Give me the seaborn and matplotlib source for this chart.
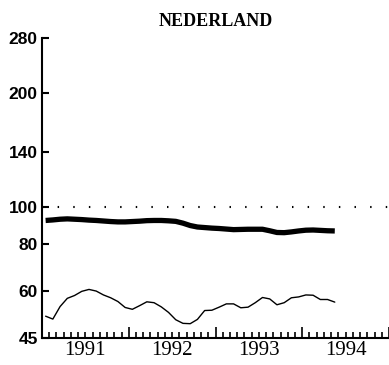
import matplotlib
matplotlib.use("Agg")
import numpy as np
import pandas as pd
import seaborn as sns
import matplotlib.pyplot as plt

# ---- data (monthly, Jan 1991 - May 1994) ----
months = pd.period_range("1991-01", periods=41, freq="M")
thick_values = [92.1, 92.4, 92.8, 93.0, 92.8, 92.6, 92.3, 92.1, 91.8, 91.5, 91.3, 91.3,
                91.5, 91.7, 92.0, 92.1, 92.1, 91.9, 91.6, 90.6, 89.3, 88.5, 88.2, 87.9,
                87.7, 87.4, 87.1, 87.2, 87.3, 87.3, 87.3, 86.5, 85.6, 85.5, 85.9, 86.4,
                86.8, 86.9, 86.7, 86.5, 86.4]
thin_values = [51.4, 50.5, 54.5, 57.3, 58.3, 59.8, 60.5, 59.9, 58.5, 57.5, 56.2, 54.2,
               53.6, 54.8, 56.1, 55.8, 54.4, 52.6, 50.3, 49.2, 49.1, 50.4, 53.2, 53.3,
               54.3, 55.4, 55.4, 54.1, 54.3, 55.8, 57.6, 57.1, 55.1, 55.8, 57.5, 57.8,
               58.5, 58.4, 56.9, 56.9, 56.0]
reference_level = 100
y_ticks = [45, 60, 80, 100, 140, 200, 280]
years = [1991, 1992, 1993, 1994]
title = "NEDERLAND"

df = pd.DataFrame({
    "t": [p.year + (p.month - 0.5) / 12 for p in months],
    "thick": thick_values,
    "thin": thin_values,
})

sns.set_style("ticks")
plt.rcParams["font.family"] = ["Liberation Sans", "DejaVu Sans"]
for key in ["text.color", "axes.labelcolor", "xtick.color", "ytick.color",
            "xtick.labelcolor", "ytick.labelcolor", "axes.edgecolor"]:
    plt.rcParams[key] = "black"

fig = plt.figure(figsize=(3.89, 3.65), dpi=100)
ax = fig.add_axes([42 / 389, 1 - 338 / 365, 347 / 389, 300 / 365])

ax.axhline(reference_level, color="black", lw=1.5, linestyle=(0, (0.7, 6.8)))
sns.lineplot(data=df, x="t", y="thick", ax=ax, color="black", lw=3.8,
             solid_capstyle="butt")
sns.lineplot(data=df, x="t", y="thin", ax=ax, color="black", lw=1.0)

ax.set_yscale("log")
ax.set_ylim(y_ticks[0], y_ticks[-1])
ax.set_yticks(y_ticks)
ax.set_yticklabels([str(v) for v in y_ticks], fontsize=12.5, fontweight="bold",
                   family=["Liberation Sans"])
ax.yaxis.set_minor_locator(matplotlib.ticker.NullLocator())

x0, x1 = years[0], years[-1] + 1
ax.set_xlim(x0, x1)
n_months = (x1 - x0) * 12
tick_pos = [x0 + k / 12 for k in range(n_months + 1)]
tick_lab = [str(x0 + k // 12) if k % 12 == 6 else "" for k in range(n_months + 1)]
ax.set_xticks(tick_pos)
ax.set_xticklabels(tick_lab, fontsize=15, family=["Liberation Serif"])
ax.xaxis.set_minor_locator(matplotlib.ticker.NullLocator())

ax.tick_params(axis="x", direction="in", length=4.5, width=1.2, pad=2, color="black")
ax.tick_params(axis="y", direction="in", length=5, width=1.5, pad=3, color="black")
for k, tk in enumerate(ax.xaxis.get_major_ticks()):
    tk.tick1line.set_markersize(8 if k % 12 == 0 else 4.5)
    tk.tick1line.set_markeredgewidth(1.2)

for s in ["top", "right"]:
    ax.spines[s].set_visible(False)
for s in ["left", "bottom"]:
    ax.spines[s].set_linewidth(1.5)
    ax.spines[s].set_color("black")

ax.set_xlabel("")
ax.set_ylabel("")
ax.set_title(title, fontsize=13, fontweight="bold", family=["Liberation Serif"],
             pad=9, color="black")
ax.set_facecolor("white")
fig.patch.set_facecolor("white")

fig.savefig("out.png", dpi=100)
